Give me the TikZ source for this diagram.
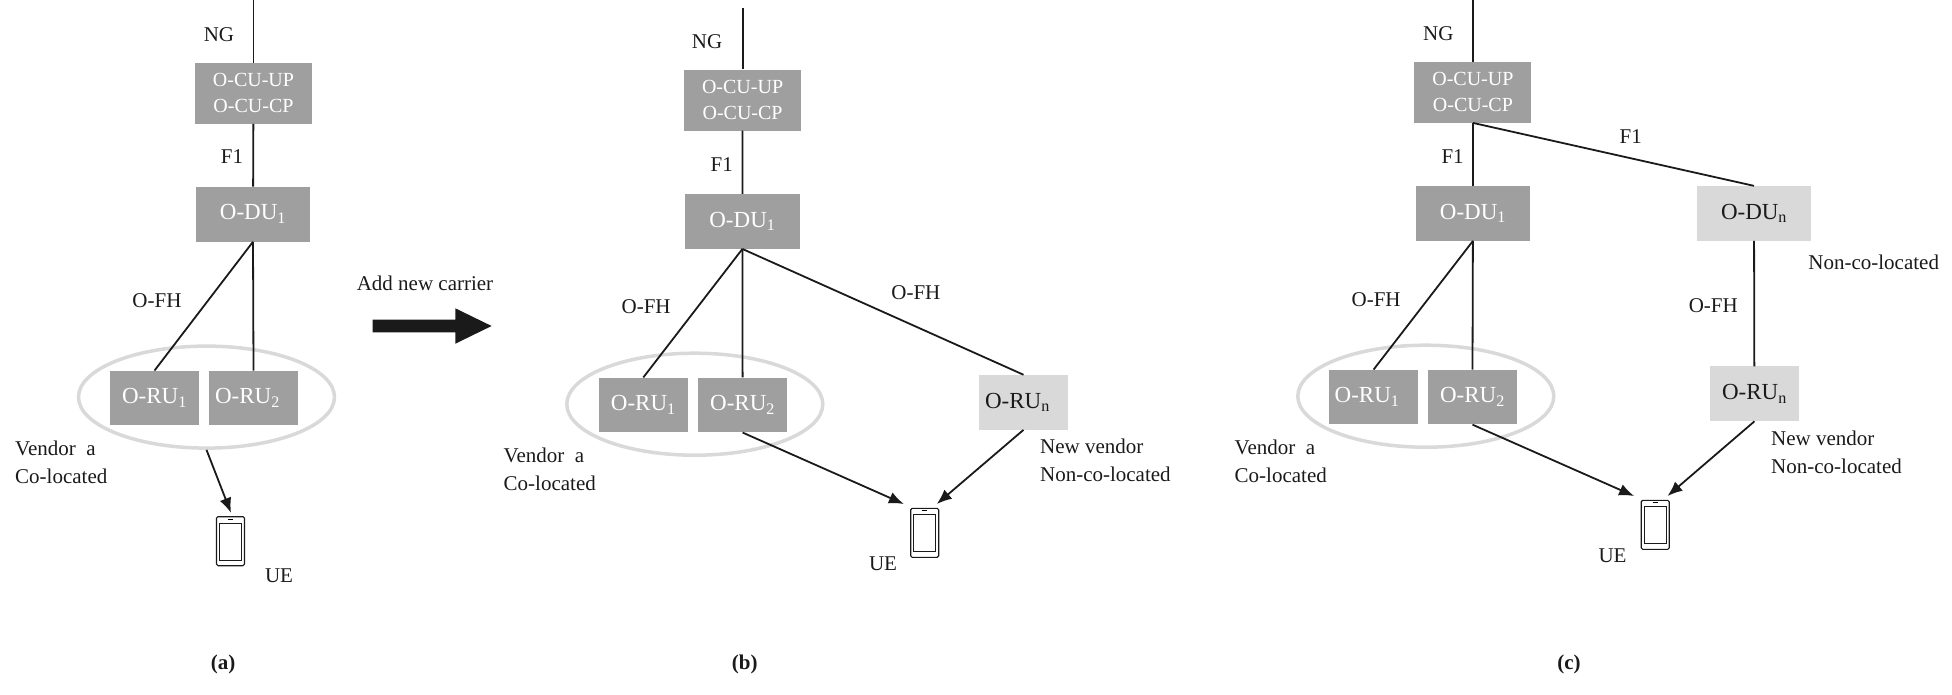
\documentclass[tikz,border=0pt]{standalone}
\usepackage{fontspec}
\setmainfont{Liberation Serif}
\usetikzlibrary{arrows.meta,shapes.geometric,shapes.arrows}
\definecolor{boxdark}{HTML}{9F9F9F}
\definecolor{boxlight}{HTML}{D9D9D9}
\definecolor{inktext}{HTML}{1A1A1A}
\tikzset{
    lbl/.style={inner sep=0pt,text=inktext,font=\fontsize{21}{28}\selectfont,align=left},
    cubox/.style={fill=boxdark,text=white,inner sep=0pt,minimum width=117pt,minimum height=61pt,
        font=\fontsize{20}{26}\selectfont,align=center},
    dubox/.style={fill=boxdark,text=white,inner sep=0pt,minimum width=114.5pt,minimum height=54.7pt,
        font=\fontsize{23}{26}\selectfont},
    rubox/.style={dubox,minimum width=89.5pt},
    newdu/.style={dubox,fill=boxlight,text=inktext},
    newru/.style={rubox,fill=boxlight,text=inktext},
    group/.style={draw=boxlight,line width=3.5pt,ellipse,inner sep=0pt,minimum width=256pt,minimum height=102pt},
    uebox/.style={draw=inktext,line width=1.1pt,rounded corners=1.5pt,inner sep=0pt,minimum width=28pt,minimum height=49pt},
    uescreen/.style={draw=inktext,line width=1pt,inner sep=0pt,minimum width=22pt,minimum height=37pt},
    link/.style={draw=inktext,line width=1.8pt},
    tolink/.style={link,-{Latex[length=15pt,width=12pt]}},
}
\begin{document}
\begin{tikzpicture}[x=1pt,y=-1pt]
    \useasboundingbox (0,0) rectangle (1952,694);

    % (a)
    \node[group] (grpA) at (206.5,397.1) {};
    \coordinate (ngA) at (253.5,0);
    \node[cubox] (cuA) at (253.5,93.2) {O-CU-UP\\O-CU-CP};
    \node[dubox] (duA) at (253,214.2) {O-DU\textsubscript{1}};
    \node[rubox] (ruAa) at (154.5,398.1) {O-RU\textsubscript{1}};
    \node[rubox] (ruAb) at (253.5,398.1) {O-RU\textsubscript{2}\hspace*{12pt}};
    \node[uebox] (ueA) at (230.5,541.2) {};
    \node[uescreen] (scrA) at ([yshift=-0.5pt]ueA.center) {};
    \coordinate (tipA) at (231,512.9);
    \draw[link] (ngA) -- (cuA);
    \draw[link] (cuA) -- (duA);
    \draw[link] (duA.south) -- (ruAa.north);
    \draw[link] (duA.south) -- (ruAb.north);
    \draw[tolink] (grpA.south) -- (tipA);
    \draw[line width=1pt] ([shift={(-2.5,3)}]ueA.north) -- ++(5,0);
    \node[lbl] (ngtxtA) at (219,34.8) {NG};
    \node[lbl] (f1txtA) at (232,157) {F1};
    \node[lbl] (fhtxtA) at (157,300.2) {O-FH};
    \node[lbl,anchor=west] (vndA) at (15,462.2) {Vendor\ \ a\\Co-located};
    \node[lbl] (uetxtA) at (279,575.5) {UE};
    \node[lbl,font=\fontsize{21}{28}\selectfont\bfseries] (capA) at (223,664) {(a)};

    % carrier arrow
    \node[lbl] (addtxt) at (425,283.3) {Add new carrier};
    \node[single arrow,fill=inktext,inner sep=0pt,minimum width=35pt,minimum height=119pt,
        single arrow head extend=11.25pt,single arrow tip angle=52] (addarr) at (425.5,326) {\rule{0pt}{12.5pt}};

    % (b)
    \node[group] (grpB) at (694.8,404.2) {};
    \coordinate (ngB) at (742.6,8);
    \node[cubox] (cuB) at (742.6,100) {O-CU-UP\\O-CU-CP};
    \node[dubox] (duB) at (742.4,221.4) {O-DU\textsubscript{1}};
    \node[rubox] (ruBa) at (643.3,405) {O-RU\textsubscript{1}};
    \node[rubox] (ruBb) at (742.6,405) {O-RU\textsubscript{2}};
    \node[newru] (ruBn) at (1023.5,402.3) {O-RU\textsubscript{n}\hspace*{12pt}};
    \node[uebox] (ueB) at (924.7,532.8) {};
    \node[uescreen] (scrB) at ([yshift=-0.5pt]ueB.center) {};
    \coordinate (tipBa) at (903.9,504);
    \coordinate (tipBb) at (936.8,504);
    \draw[link] (ngB) -- (cuB);
    \draw[link] (cuB) -- (duB);
    \draw[link] (duB.south) -- (ruBa.north);
    \draw[link] (duB.south) -- (ruBb.north);
    \draw[link] (duB.south) -- (ruBn.north);
    \draw[tolink] (ruBb.south) -- (tipBa);
    \draw[tolink] (ruBn.south) -- (tipBb);
    \draw[line width=1pt] ([shift={(-2.5,3)}]ueB.north) -- ++(5,0);
    \node[lbl] (ngtxtB) at (707,41.7) {NG};
    \node[lbl] (f1txtB) at (721.8,164.5) {F1};
    \node[lbl] (fhtxtB) at (646.1,307.1) {O-FH};
    \node[lbl] (fhtxtBn) at (915.9,292.7) {O-FH};
    \node[lbl,anchor=west] (vndB) at (503.5,469.2) {Vendor\ \ a\\Co-located};
    \node[lbl,anchor=west] (vndBn) at (1039.9,460.2) {New vendor\\Non-co-located};
    \node[lbl] (uetxtB) at (883,564.2) {UE};
    \node[lbl,font=\fontsize{21}{28}\selectfont\bfseries] (capB) at (744.8,664) {(b)};

    % (c)
    \node[group] (grpC) at (1425.8,396.2) {};
    \coordinate (ngC) at (1472.9,0);
    \node[cubox] (cuC) at (1472.9,92.2) {O-CU-UP\\O-CU-CP};
    \node[dubox] (duC) at (1472.9,213.4) {O-DU\textsubscript{1}};
    \node[newdu] (duCn) at (1754,213.4) {O-DU\textsubscript{n}};
    \node[rubox] (ruCa) at (1373.6,397.1) {O-RU\textsubscript{1}\hspace*{13pt}};
    \node[rubox] (ruCb) at (1472.5,397.1) {O-RU\textsubscript{2}};
    \node[newru] (ruCn) at (1754.4,393.8) {O-RU\textsubscript{n}};
    \node[uebox] (ueC) at (1655.2,524.8) {};
    \node[uescreen] (scrC) at ([yshift=-0.5pt]ueC.center) {};
    \coordinate (tipCa) at (1634.1,496);
    \coordinate (tipCb) at (1667.5,496);
    \draw[link] (ngC) -- (cuC);
    \draw[link] (cuC) -- (duC);
    \draw[link] (cuC.south) -- (duCn.north);
    \draw[link] (duC.south) -- (ruCa.north);
    \draw[link] (duC.south) -- (ruCb.north);
    \draw[link] (duCn) -- (ruCn);
    \draw[tolink] (ruCb.south) -- (tipCa);
    \draw[tolink] (ruCn.south) -- (tipCb);
    \draw[line width=1pt] ([shift={(-2.5,3)}]ueC.north) -- ++(5,0);
    \node[lbl] (ngtxtC) at (1438.3,33.8) {NG};
    \node[lbl] (f1txtC) at (1452.6,156.6) {F1};
    \node[lbl] (f1txtCn) at (1630.7,136.2) {F1};
    \node[lbl] (fhtxtC) at (1376.1,299.8) {O-FH};
    \node[lbl] (fhtxtCn) at (1713.3,305.6) {O-FH};
    \node[lbl,anchor=west] (ncoC) at (1808.2,262.4) {Non-co-located};
    \node[lbl,anchor=west] (vndC) at (1234.5,461.2) {Vendor\ \ a\\Co-located};
    \node[lbl,anchor=west] (vndCn) at (1771,452.3) {New vendor\\Non-co-located};
    \node[lbl] (uetxtC) at (1612.5,555.6) {UE};
    \node[lbl,font=\fontsize{21}{28}\selectfont\bfseries] (capC) at (1569,664) {(c)};
\end{tikzpicture}
\end{document}
